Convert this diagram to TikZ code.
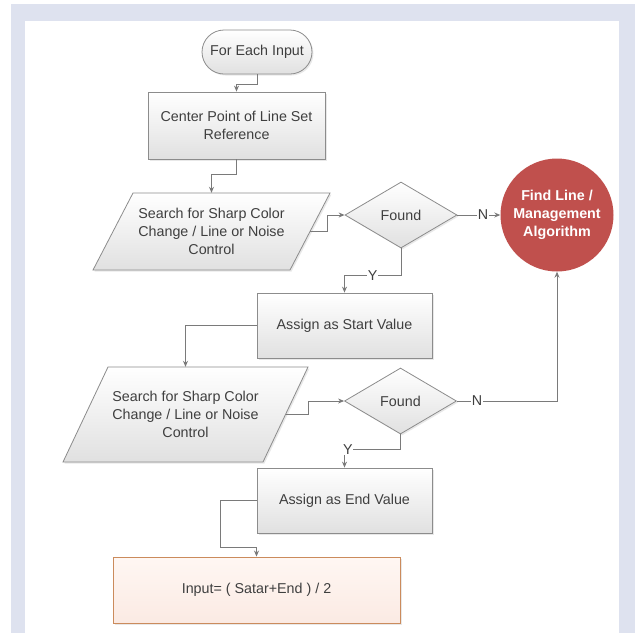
\documentclass[tikz,border=0pt]{standalone}
\usepackage{fontspec}
\setmainfont{Liberation Sans}
\usetikzlibrary{arrows.meta,shadows,calc,shapes.geometric,shapes.misc}
\definecolor{bgblue}{HTML}{DEE2EF}
\definecolor{edgec}{HTML}{8C8C8C}
\definecolor{connc}{HTML}{7A7A7A}
\definecolor{txtc}{HTML}{3F3F3F}
\definecolor{redc}{HTML}{C0504D}
\definecolor{peachtop}{HTML}{FFF7F3}
\definecolor{peachbot}{HTML}{FBEAE3}
\definecolor{peachedge}{HTML}{CB8B5C}
\newcommand{\fs}{\fontsize{14.3}{18}\selectfont}
\tikzset{
  shapebase/.style={draw=edgec, line width=0.8pt, top color=white, bottom color=black!12,
    text=txtc, font=\fs, align=center,
    drop shadow={opacity=0.18, shadow xshift=1.5pt, shadow yshift=-1.5pt}},
  procbox/.style={shapebase, rectangle, inner sep=0pt},
  startbox/.style={shapebase, rounded rectangle, inner sep=0pt, minimum width=110pt, minimum height=44pt},
  decbox/.style={shapebase, diamond, inner sep=0pt, minimum width=112pt, minimum height=66pt, shape aspect=1.7},
  iobox/.style={rectangle, inner sep=0pt, text=txtc, font=\fs, align=center},
  ioshape/.style={draw=edgec, line width=0.8pt, top color=white, bottom color=black!12,
    drop shadow={opacity=0.18, shadow xshift=1.5pt, shadow yshift=-1.5pt}},
  conn/.style={draw=connc, line width=0.9pt, -{Stealth[length=6pt,width=5pt]}},
  lbl/.style={fill=white, inner sep=0.8pt, text=txtc, font=\fs}
}
\begin{document}
\begin{tikzpicture}[x=1pt,y=-1pt]
\useasboundingbox (0,0) rectangle (635,633);
\fill[bgblue] (11,4) rectangle (635,633);
\fill[white] (25,21) rectangle (619,633);

% nodes
\node[startbox] (s) at (257,52) {For Each Input};
\node[procbox, minimum width=177pt, minimum height=67pt] (b1) at (236.5,125.5) {Center Point of Line Set\\Reference};

\draw[ioshape] (133,193) -- (330,193) -- (290,270) -- (93,270) -- cycle;
\node[iobox, minimum width=197pt, minimum height=77pt] (p1) at (211.5,231.5) {Search for Sharp Color\\Change / Line or Noise\\Control};

\node[decbox] (d1) at (401,215) {Found};
\node[circle, fill=redc, minimum size=113pt, inner sep=0pt, text=white, align=center,
      font=\bfseries\fs] (c) at (557,215) {Find Line /\\Management\\Algorithm};

\node[procbox, minimum width=175pt, minimum height=65pt] (b2) at (344.5,325.5) {Assign as Start Value};

\draw[ioshape] (108,367) -- (308,367) -- (263,462) -- (63,462) -- cycle;
\node[iobox, minimum width=200pt, minimum height=95pt] (p2) at (185.5,414.5) {Search for Sharp Color\\Change / Line or Noise\\Control};

\node[decbox] (d2) at (400.5,401) {Found};
\node[procbox, minimum width=175pt, minimum height=65pt] (b3) at (344.5,500.5) {Assign as End Value};
\node[draw=peachedge, line width=0.9pt, top color=peachtop, bottom color=peachbot,
      minimum width=287pt, minimum height=66pt, inner sep=0pt, text=txtc, font=\fs,
      drop shadow={opacity=0.18, shadow xshift=1.5pt, shadow yshift=-1.5pt}] (b4) at (256.5,590) {Input= ( Satar+End ) / 2};

% connectors
\draw[conn] (s.south) -- ++(0,10) -| (b1.north);
\draw[conn] (b1.south) -- ++(0,15) -| (p1.north);
\draw[conn] (p1.east) -- ++(17,0) |- (d1.west);
\draw[conn] (d1.east) -- node[lbl, pos=0.6]{N} (c.west);
\draw[conn] (d1.south) -- ++(0,27) -| node[lbl, pos=0.25]{Y} (b2.north);
\draw[conn] (b2.west) -| (p2.north);
\draw[conn] (p2.east) -- ++(22.5,0) |- (d2.west);
\draw[conn] (d2.east) -| node[lbl, pos=0.1]{N} (c.south);
\draw[conn] (d2.south) -- ++(0,15) -| node[lbl, pos=0.47]{Y} (b3.north);
\draw[conn] (b3.west) -- ++(-36,0) |- ($(b4.north)+(0,-9)$) -- (b4.north);
\end{tikzpicture}
\end{document}
